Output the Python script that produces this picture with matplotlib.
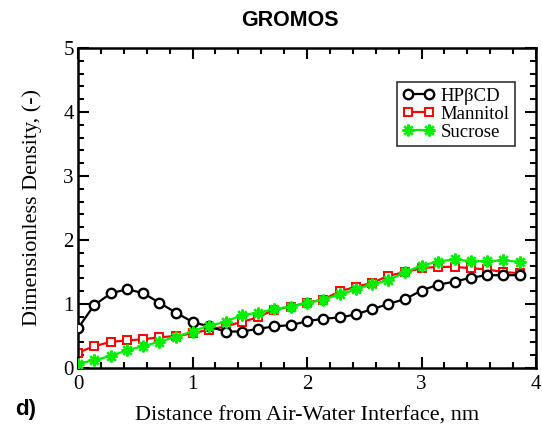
import matplotlib.pyplot as plt
from matplotlib.ticker import MultipleLocator

# distance from interface (nm), bin centres
dist = [0.0, 0.14, 0.29, 0.43, 0.57, 0.71, 0.86, 1.0, 1.14, 1.29,
        1.43, 1.57, 1.71, 1.86, 2.0, 2.14, 2.29, 2.43, 2.57, 2.71,
        2.86, 3.0, 3.14, 3.29, 3.43, 3.57, 3.71, 3.86]

hpbcd = [0.62, 0.98, 1.17, 1.23, 1.17, 1.02, 0.86, 0.72, 0.65, 0.57,
         0.57, 0.61, 0.65, 0.67, 0.73, 0.77, 0.79, 0.84, 0.92, 1.00,
         1.08, 1.21, 1.30, 1.35, 1.41, 1.45, 1.45, 1.45]

mannitol = [0.24, 0.34, 0.41, 0.43, 0.45, 0.48, 0.50, 0.54, 0.60, 0.65,
            0.72, 0.79, 0.91, 0.96, 1.02, 1.07, 1.20, 1.27, 1.33, 1.44,
            1.50, 1.56, 1.58, 1.58, 1.56, 1.54, 1.50, 1.48]

sucrose = [0.07, 0.12, 0.19, 0.28, 0.34, 0.41, 0.49, 0.57, 0.66, 0.72,
           0.83, 0.86, 0.92, 0.96, 1.01, 1.07, 1.15, 1.23, 1.31, 1.37,
           1.50, 1.60, 1.66, 1.70, 1.67, 1.67, 1.68, 1.66]

serif = ['Liberation Serif', 'DejaVu Serif']
sans = ['Liberation Sans', 'DejaVu Sans']

fig = plt.figure(figsize=(5.42, 4.28), dpi=100)
ax = fig.add_axes([78 / 542, 1 - 368 / 428, 458 / 542, 320 / 428])

ax.plot(dist, hpbcd, color='black', lw=1.6, marker='o', ms=6.8,
        mfc='white', mec='black', mew=1.7, label='HP\u03b2CD', zorder=3)
ax.plot(dist, mannitol, color='red', lw=1.6, marker='s', ms=6.3,
        mfc='white', mec='red', mew=1.4, label='Mannitol', zorder=2)
ax.plot(dist, sucrose, color='#00ee00', lw=1.6, marker=(8, 2, 0), ms=8.5,
        mec='#00ee00', mew=1.7, label='Sucrose', zorder=4)

ax.set_xlim(0, 4)
ax.set_ylim(0, 5)
ax.xaxis.set_major_locator(MultipleLocator(1))
ax.xaxis.set_minor_locator(MultipleLocator(0.2))
ax.yaxis.set_major_locator(MultipleLocator(1))
ax.yaxis.set_minor_locator(MultipleLocator(0.2))
ax.tick_params(which='both', direction='in', top=True, right=True, width=1.5)
ax.tick_params(which='major', length=8, labelsize=15)
ax.tick_params(which='minor', length=4)
ax.tick_params(axis='x', which='major', pad=5)
ax.tick_params(axis='y', which='major', pad=3)
for lab in ax.get_xticklabels() + ax.get_yticklabels():
    lab.set_family(serif)
for sp in ax.spines.values():
    sp.set_linewidth(1.8)

ax.set_xlabel('Distance from Air-Water Interface, nm', family=serif, fontsize=16, labelpad=9)
ax.set_ylabel('Dimensionless Density, (-)', family=serif, fontsize=16, labelpad=15)

leg = ax.legend(loc='upper right', bbox_to_anchor=(0.954, 0.894), numpoints=2,
                borderaxespad=0, handlelength=1.7, handletextpad=0.3, borderpad=0.3,
                labelspacing=0.05, fancybox=False, edgecolor='black',
                prop={'family': serif, 'size': 13.5})
leg.get_frame().set_linewidth(1.2)

fig.text(290 / 542, 1 - 20 / 428, 'GROMOS', family=sans, weight='bold',
         fontsize=15.5, ha='center', va='center')
fig.text(26 / 542, 1 - 410 / 428, 'd)', family=sans, weight='bold',
         fontsize=16, ha='center', va='center')

fig.savefig('out.png', dpi=100)
